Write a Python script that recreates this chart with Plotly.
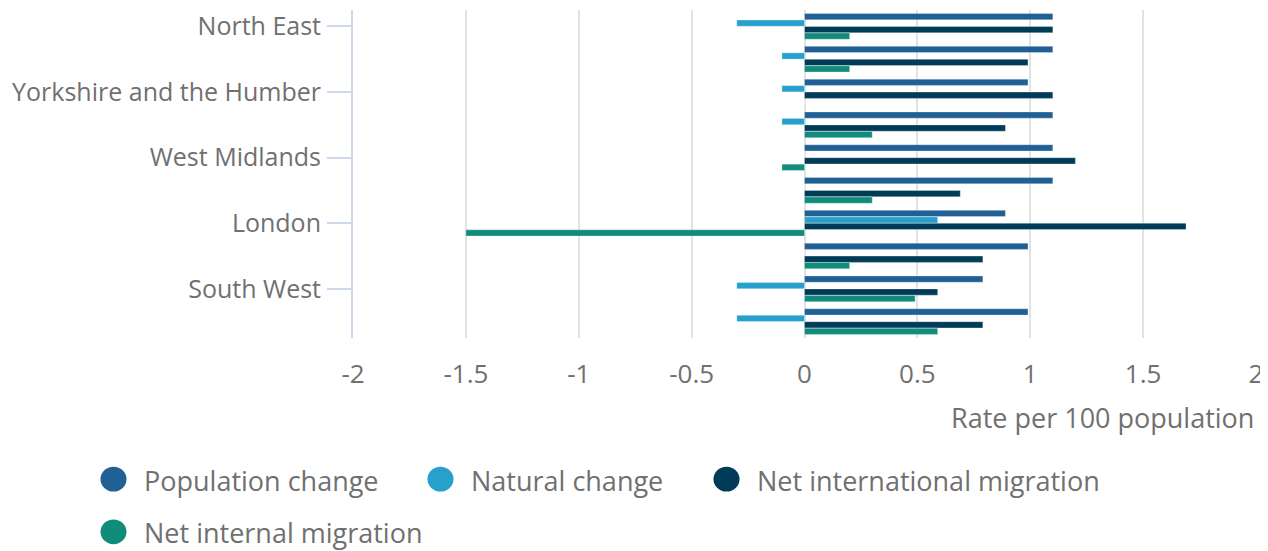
import plotly.graph_objects as go

regions = ["North East", "North West", "Yorkshire and the Humber", "East Midlands",
           "West Midlands", "East", "London", "South East", "South West", "Wales"]
population_change = [1.1, 1.1, 0.99, 1.1, 1.1, 1.1, 0.89, 0.99, 0.79, 0.99]
natural_change = [-0.3, -0.1, -0.1, -0.1, 0.0, 0.0, 0.59, 0.0, -0.3, -0.3]
net_international = [1.1, 0.99, 1.1, 0.89, 1.2, 0.69, 1.69, 0.79, 0.59, 0.79]
net_internal = [0.2, 0.2, 0.0, 0.3, -0.1, 0.3, -1.5, 0.2, 0.49, 0.59]

series_names = ["Population change", "Natural change", "Net international migration", "Net internal migration"]
series_values = [population_change, natural_change, net_international, net_internal]
colors = ["#206095", "#27a0cc", "#003c57", "#118c7b"]
x_ticks = [-2, -1.5, -1, -0.5, 0, 0.5, 1, 1.5, 2]

FONT = "Open Sans"
GREY = "#707070"

fig = go.Figure()
for name, vals, col in zip(series_names, series_values, colors):
    fig.add_trace(go.Bar(
        y=regions, x=vals, name=name, orientation="h",
        marker=dict(color=col, line=dict(color="rgba(255,255,255,0.5)", width=0.6)),
        showlegend=False,
    ))

# page body has an 8px margin: size the figure so the plot lands where the reference has it
OFF = 8
W, H = 1268 - OFF, 551 - OFF
ml, mr, mt, mb = 353 - OFF, 12, 8 - OFF, 213
fig.update_layout(
    width=W, height=H,
    margin=dict(l=ml, r=mr, t=mt, b=mb, pad=0),
    barmode="group", bargap=0.21, bargroupgap=0.03,
    plot_bgcolor="white", paper_bgcolor="white",
    font=dict(family=FONT, size=25, color=GREY),
)
fig.update_xaxes(
    range=[-2, 2], tickvals=x_ticks, ticktext=[f"{v:g}" for v in x_ticks],
    showgrid=True, gridcolor="#e2e2e2", gridwidth=2,
    zeroline=True, zerolinecolor="#e2e2e2", zerolinewidth=2,
    showline=False, ticks="", ticklabelstandoff=18,
    tickfont=dict(size=26, color=GREY),
)
fig.update_yaxes(
    categoryorder="array", categoryarray=regions, autorange="reversed",
    tickvals=regions[::2], ticktext=regions[::2],
    showgrid=False, zeroline=False,
    showline=True, linecolor="#cfd8ec", linewidth=2,
    ticks="outside", ticklen=24, tickwidth=2, tickcolor="#cfd8ec",
    ticklabelstandoff=1,
    tickfont=dict(size=25, color=GREY),
)

ph = H - mt - mb
pw = W - ml - mr
def px_to_paper_y(py):
    return (H - mb - (py - OFF)) / ph
def px_to_paper_x(px):
    return ((px - OFF) - ml) / pw

fig.add_annotation(
    x=1, y=px_to_paper_y(418), xref="paper", yref="paper",
    xanchor="right", yanchor="middle", showarrow=False,
    text="Rate per 100 population", font=dict(size=27, color=GREY),
)

# custom legend with round markers
legend_pos = [(113.5, 480), (440.5, 480), (726.5, 480), (113.5, 533)]
rx, ry = 13, 12.5
for (cx, cy), name, col in zip(legend_pos, series_names, colors):
    fig.add_shape(
        type="circle", xref="paper", yref="paper",
        x0=px_to_paper_x(cx - rx), x1=px_to_paper_x(cx + rx),
        y0=px_to_paper_y(cy + ry), y1=px_to_paper_y(cy - ry),
        fillcolor=col, line=dict(width=0),
    )
    fig.add_annotation(
        x=px_to_paper_x(cx + 28), y=px_to_paper_y(cy + 1), xref="paper", yref="paper",
        xanchor="left", yanchor="middle", showarrow=False,
        text=name, font=dict(size=27, color=GREY),
    )

fig.write_html("out.html", post_script="document.body.style.overflow='hidden';")
